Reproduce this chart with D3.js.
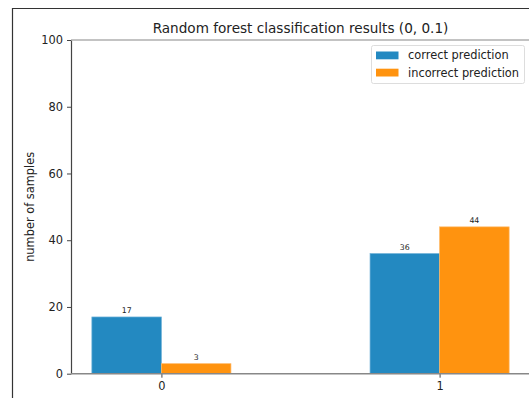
<!DOCTYPE html>
<html lang="en">
<head>
<meta charset="utf-8">
<title>random forest results</title>
<script src="https://d3js.org/d3.v7.min.js"></script>
<style>
  html, body { margin: 0; background: #fff; overflow: hidden; }
  svg { display: block; }
  text { font-family: "DejaVu Sans", sans-serif; fill: #222; }
</style>
</head>
<body>
<script>
// data
var categories = [0, 1];
var seriesNames = ["correct prediction", "incorrect prediction"];
var correct = [17, 36];
var incorrect = [3, 44];
var yTicks = [0, 20, 40, 60, 80, 100];
var colors = ["#2389c1", "#ff930f"];
var edgeColors = ["#6fb2d8", "#ffb866"];

var w = 529, h = 398;
var plotLeft = 71, plotTop = 40, plotBottom = 373.7, plotRight = 530;

var svg = d3.select("body").append("svg")
  .attr("width", w).attr("height", h);

// figure frame (cropped)
svg.append("path")
  .attr("d", `M12.5,${h} V8.5 H${w}`)
  .attr("fill", "none").attr("stroke", "#333").attr("stroke-width", 1.2);

var barW = 0.25;
var xScale = d3.scaleLinear()
  .domain([-0.325, 1.325])
  .range([plotLeft, plotRight]);

var yScale = d3.scaleLinear()
  .domain([0, 100])
  .range([plotBottom, plotTop]);

var series = [correct, incorrect];
var offsets = [-barW / 2, barW / 2];

series.forEach(function(vals, s) {
  var g = svg.append("g");
  g.selectAll("rect")
    .data(vals)
    .enter().append("rect")
    .attr("x", (d, i) => xScale(categories[i] + offsets[s] - barW / 2))
    .attr("width", xScale(barW) - xScale(0))
    .attr("y", d => yScale(d))
    .attr("height", d => yScale(0) - yScale(d))
    .attr("fill", colors[s])
    .attr("stroke", edgeColors[s])
    .attr("stroke-width", 0.7);

  g.selectAll("text")
    .data(vals)
    .enter().append("text")
    .attr("x", (d, i) => xScale(categories[i] + offsets[s]))
    .attr("y", d => yScale(d) - 4)
    .attr("text-anchor", "middle")
    .attr("font-size", "7.8px")
    .text(d => d);
});

// axes
var yAxis = d3.axisLeft(yScale).tickValues(yTicks).tickSize(4).tickSizeOuter(0).tickPadding(4);
var gy = svg.append("g")
  .attr("transform", `translate(${plotLeft},0)`)
  .call(yAxis);
gy.attr("font-size", null).attr("font-family", null);
gy.select(".domain").attr("stroke", "#444").attr("stroke-width", 1.2);
gy.selectAll(".tick line").attr("stroke", "#444");
gy.selectAll(".tick text").attr("font-size", "11.4px").attr("fill", "#222");

var xAxis = d3.axisBottom(xScale).tickValues(categories).tickSize(4).tickSizeOuter(0).tickPadding(4)
  .tickFormat(d3.format("d"));
var gx = svg.append("g")
  .attr("transform", `translate(0,${plotBottom})`)
  .call(xAxis);
gx.attr("font-size", null).attr("font-family", null);
gx.select(".domain").remove();
gx.append("line")
  .attr("x1", plotLeft).attr("x2", w)
  .attr("stroke", "#888").attr("stroke-width", 1.5);
gx.selectAll(".tick line").attr("stroke", "#444");
gx.selectAll(".tick text").attr("font-size", "11.4px").attr("fill", "#222");

// top spine
svg.append("line")
  .attr("x1", plotLeft).attr("x2", w)
  .attr("y1", yScale(100)).attr("y2", yScale(100))
  .attr("stroke", "#888").attr("stroke-width", 1.2);

// title
svg.append("text")
  .attr("x", (plotLeft + plotRight) / 2)
  .attr("y", 32.5)
  .attr("text-anchor", "middle")
  .attr("font-size", "13.6px")
  .text("Random forest classification results (0, 0.1)");

// y label
svg.append("text")
  .attr("transform", `translate(34,${(plotTop + plotBottom) / 2}) rotate(-90)`)
  .attr("text-anchor", "middle")
  .attr("font-size", "11.4px")
  .text("number of samples");

// legend
var legend = svg.append("g");
legend.append("rect")
  .attr("x", 371.5).attr("y", 45.5)
  .attr("width", 153).attr("height", 38)
  .attr("rx", 2)
  .attr("fill", "#fff").attr("stroke", "#ddd");

seriesNames.forEach(function(name, i) {
  legend.append("rect")
    .attr("x", 376).attr("y", 51.5 + i * 17.2)
    .attr("width", 22.5).attr("height", 7.8)
    .attr("fill", colors[i]);
  legend.append("text")
    .attr("x", 408).attr("y", 59.3 + i * 17.2)
    .attr("font-size", "11.4px")
    .text(name);
});
</script>
</body>
</html>
